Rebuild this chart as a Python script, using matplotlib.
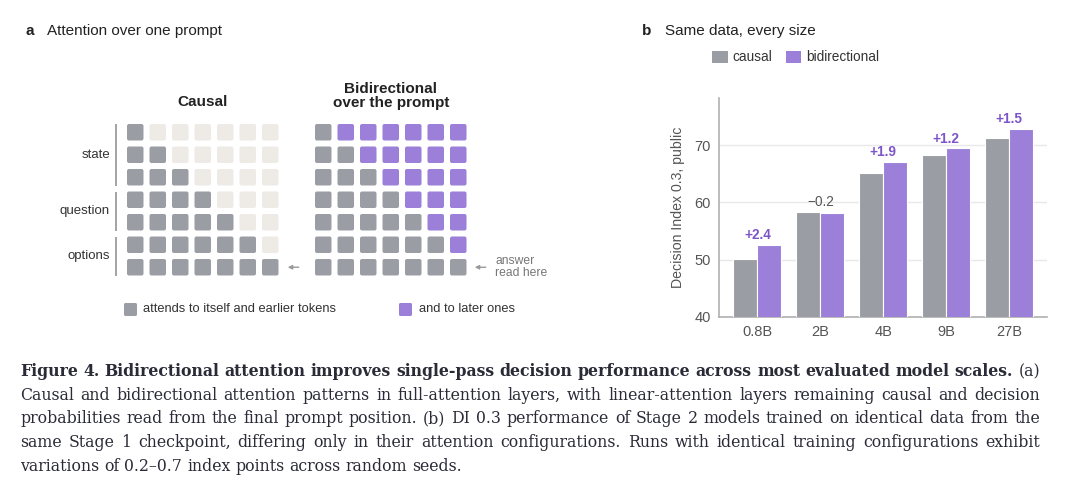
import numpy as np
import matplotlib
matplotlib.use("Agg")
import matplotlib.pyplot as plt
from matplotlib.patches import FancyBboxPatch, Rectangle

plt.rcParams['font.family'] = ['Liberation Sans', 'DejaVu Sans']

# ---------------- data ----------------
# panel a: 7 prompt tokens grouped by role
row_groups = ['state', 'question', 'options']
group_sizes = [3, 2, 2]
n_tok = 7
earlier = np.tril(np.ones((n_tok, n_tok), dtype=int))   # self + earlier tokens
causal_mask = earlier                                     # 0 = masked, 1 = earlier
bidir_mask = earlier + 2 * (1 - earlier)                  # 1 = earlier, 2 = later

# panel b: decision index per model size
sizes = ['0.8B', '2B', '4B', '9B', '27B']
causal_vals = [50.2, 58.3, 65.2, 68.2, 71.3]
bidir_vals = [52.6, 58.1, 67.1, 69.4, 72.8]
yticks = [40, 50, 60, 70]

caption_lines = [
    [("Figure 4.  Bidirectional attention improves single-pass decision performance across most evaluated model scales.", 'bold'),
     ("(a)", 'normal')],
    [("Causal and bidirectional attention patterns in full-attention layers, with linear-attention layers remaining causal and decision", 'normal')],
    [("probabilities read from the final prompt position. (b) DI 0.3 performance of Stage 2 models trained on identical data from the", 'normal')],
    [("same Stage 1 checkpoint, differing only in their attention configurations. Runs with identical training configurations exhibit", 'normal')],
    [("variations of 0.2\u20130.7 index points across random seeds.", 'normal')],
]

GRAY = '#9a9ea4'
PURPLE = '#9b7fd9'
EMPTY = '#eeebe6'
INK = '#222222'
TXT = '#333333'
cell_colors = {0: EMPTY, 1: GRAY, 2: PURPLE}

fig = plt.figure(figsize=(10.8, 4.91), dpi=100)
fig.patch.set_facecolor('white')

# overlay in pixel coordinates for panel a + titles + caption
ov = fig.add_axes([0, 0, 1, 1])
ov.set_xlim(0, 1080)
ov.set_ylim(491, 0)
ov.axis('off')

# ---------------- panel a ----------------
ov.text(25, 31, 'a', fontsize=11, fontweight='bold', color=INK, va='center')
ov.text(47, 31, 'Attention over one prompt', fontsize=11, color=INK, va='center')

pitch, cell = 22.5, 16.5
grid_top = 124

def draw_grid(x0, mask):
    for i in range(n_tok):
        for j in range(n_tok):
            box = FancyBboxPatch((x0 + j * pitch, grid_top + i * pitch), cell, cell,
                                 boxstyle='round,pad=0,rounding_size=2',
                                 fc=cell_colors[mask[i, j]], ec='none')
            ov.add_patch(box)
    return x0 + (6 * pitch + cell) / 2

cx = draw_grid(127, causal_mask)
bx = draw_grid(315, bidir_mask)
ov.text(cx, 102, 'Causal', fontsize=11, fontweight='bold', color=INK, ha='center', va='center')
ov.text(bx, 89, 'Bidirectional', fontsize=11, fontweight='bold', color=INK, ha='center', va='center')
ov.text(bx, 103, 'over the prompt', fontsize=11, fontweight='bold', color=INK, ha='center', va='center')

# row group labels with brackets
r = 0
for name, n in zip(row_groups, group_sizes):
    top = grid_top + r * pitch
    bot = grid_top + (r + n - 1) * pitch + cell
    ov.plot([116, 116], [top, bot], color='#8a8a8a', lw=1.1, solid_capstyle='butt')
    ov.text(110, (top + bot) / 2, name, fontsize=9.5, color=TXT, ha='right', va='center')
    r += n

last_y = grid_top + 6 * pitch + cell / 2
for xa in (cx + 85, bx + 84):
    ov.annotate('', xy=(xa, last_y), xytext=(xa + 11, last_y),
                arrowprops=dict(arrowstyle='-|>', color='#9a9a9a', lw=1.0, mutation_scale=6,
                                shrinkA=0, shrinkB=0))
ov.text(495, last_y - 6, 'answer', fontsize=8.7, color='#777777', va='center')
ov.text(495, last_y + 5.5, 'read here', fontsize=8.7, color='#777777', va='center')

# legend of panel a
ov.add_patch(FancyBboxPatch((124, 303), 13, 13, boxstyle='round,pad=0,rounding_size=1.5', fc=GRAY, ec='none'))
ov.text(143, 308.5, 'attends to itself and earlier tokens', fontsize=9.3, color=TXT, va='center')
ov.add_patch(FancyBboxPatch((399, 303), 13, 13, boxstyle='round,pad=0,rounding_size=1.5', fc=PURPLE, ec='none'))
ov.text(419, 308.5, 'and to later ones', fontsize=9.3, color=TXT, va='center')

# ---------------- panel b ----------------
ov.text(642, 31, 'b', fontsize=11, fontweight='bold', color=INK, va='center')
ov.text(665, 31, 'Same data, every size', fontsize=11, color=INK, va='center')
ov.add_patch(Rectangle((712, 50.5), 15.5, 12.5, fc=GRAY, ec='none'))
ov.text(732, 57, 'causal', fontsize=9.8, color=TXT, va='center')
ov.add_patch(Rectangle((786, 50.5), 15, 12.5, fc=PURPLE, ec='none'))
ov.text(806, 57, 'bidirectional', fontsize=9.8, color=TXT, va='center')

ax = fig.add_axes([719 / 1080, 1 - 317 / 491, 328 / 1080, 219 / 491])
x = np.arange(len(sizes))
w = 0.38
ax.bar(x - w / 2, causal_vals, w, color=GRAY, edgecolor='white', linewidth=0.8, zorder=3)
ax.bar(x + w / 2, bidir_vals, w, color=PURPLE, edgecolor='white', linewidth=0.8, zorder=3)
for xi, c, b in zip(x, causal_vals, bidir_vals):
    d = b - c
    top = max(c, b)
    if d >= 0:
        ax.text(xi, top + 0.5, f'+{d:.1f}', ha='center', va='bottom', fontsize=9.8,
                fontweight='bold', color='#7d55c9')
    else:
        ax.text(xi, top + 0.5, f'\u2212{abs(d):.1f}', ha='center', va='bottom', fontsize=9.8,
                color='#555555')

ax.set_xlim(-0.61, 4.6)
ax.set_ylim(40, 78.2)
ax.set_yticks(yticks)
ax.set_xticks(x)
ax.set_xticklabels(sizes)
ax.tick_params(length=0, labelsize=10.5, labelcolor='#555555')
ax.tick_params(axis='y', pad=6)
ax.tick_params(axis='x', pad=6)
ax.grid(axis='y', color='#e8e8e8', lw=1, zorder=0)
for s in ('top', 'right'):
    ax.spines[s].set_visible(False)
for s in ('left', 'bottom'):
    ax.spines[s].set_color('#b0b0b0')
    ax.spines[s].set_linewidth(1.2)
ax.set_ylabel('Decision Index 0.3, public', fontsize=10.2, color='#555555', labelpad=7)
ax.set_facecolor('none')

# ---------------- caption (justified) ----------------
renderer = fig.canvas.get_renderer()
cap_x0, cap_x1 = 20, 1040
baselines = [376, 399.7, 423.4, 447, 470.8]
cap_font = 'DejaVu Serif'

def line_words(parts):
    out = []
    for text, weight in parts:
        out += [(wd, weight) for wd in text.split()]
    return out

def measure(s, size, weight='normal'):
    t = ov.text(0, 0, s, fontsize=size, fontweight=weight, family=cap_font)
    wpx = t.get_window_extent(renderer).width
    t.remove()
    return wpx

# pick the size so that the tightest justified line has natural spacing
probe = 10.0
sp = measure('a a', probe) - measure('aa', probe)
scale = min((cap_x1 - cap_x0) /
            (sum(measure(wd, probe, wt) for wd, wt in line_words(p)) + sp * (len(line_words(p)) - 1))
            for p in caption_lines[:-1])
cap_size = probe * scale

for k, (parts, yb) in enumerate(zip(caption_lines, baselines)):
    words = line_words(parts)
    objs = [ov.text(0, yb, wd, fontsize=cap_size, fontweight=wt, family=cap_font,
                    color='#2b2b38', va='baseline') for wd, wt in words]
    widths = [t.get_window_extent(renderer).width for t in objs]
    if k < len(caption_lines) - 1:
        gap = (cap_x1 - cap_x0 - sum(widths)) / (len(words) - 1)
    else:
        gap = sp * scale
    xpos = cap_x0
    for t, wd in zip(objs, widths):
        t.set_x(xpos)
        xpos += wd + gap

fig.savefig('out.png', dpi=100, facecolor='white')
